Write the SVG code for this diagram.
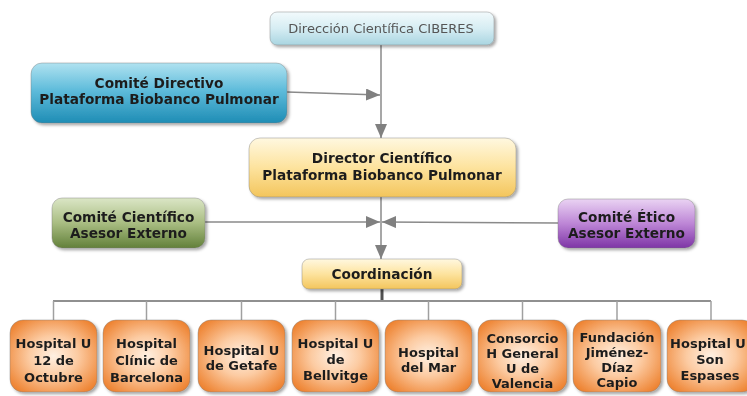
<svg xmlns="http://www.w3.org/2000/svg" width="747" height="396" viewBox="0 0 747 396">
<defs>
  <linearGradient id="gTop" x1="0" y1="0" x2="0" y2="1">
    <stop offset="0" stop-color="#f2fafc"/><stop offset="0.5" stop-color="#d6edf3"/><stop offset="1" stop-color="#a9d5e1"/>
  </linearGradient>
  <linearGradient id="gBlue" x1="0" y1="0" x2="0" y2="1">
    <stop offset="0" stop-color="#b0e2f0"/><stop offset="0.45" stop-color="#5fbcdb"/><stop offset="1" stop-color="#1f8db5"/>
  </linearGradient>
  <linearGradient id="gYel" x1="0" y1="0" x2="0" y2="1">
    <stop offset="0" stop-color="#fff8e0"/><stop offset="0.5" stop-color="#fde39e"/><stop offset="1" stop-color="#f3c55c"/>
  </linearGradient>
  <linearGradient id="gGreen" x1="0" y1="0" x2="0" y2="1">
    <stop offset="0" stop-color="#dbe6c6"/><stop offset="0.5" stop-color="#a9bd82"/><stop offset="1" stop-color="#62803a"/>
  </linearGradient>
  <linearGradient id="gPurp" x1="0" y1="0" x2="0" y2="1">
    <stop offset="0" stop-color="#ead3f3"/><stop offset="0.5" stop-color="#bd86d6"/><stop offset="1" stop-color="#7e35a6"/>
  </linearGradient>
  <radialGradient id="gOr" cx="0.5" cy="0.5" r="0.62">
    <stop offset="0" stop-color="#fff0e2"/><stop offset="0.45" stop-color="#fccba2"/><stop offset="1" stop-color="#ee8433"/>
  </radialGradient>
  <filter id="sh" x="-10%" y="-10%" width="130%" height="140%">
    <feDropShadow dx="2" dy="2" stdDeviation="1.8" flood-color="#000" flood-opacity="0.35"/>
  </filter>
  <marker id="arr" viewBox="0 0 14 12" refX="14" refY="6" markerWidth="14" markerHeight="12" markerUnits="userSpaceOnUse" orient="auto">
    <path d="M0,0 L14,6 L0,12 Z" fill="#808080"/>
  </marker>
</defs>
<style>
  .b { font-family: "DejaVu Sans", Verdana, sans-serif; font-weight: bold; font-size: 13px; fill: #1e1e1e; text-anchor: middle; }
  .h { font-size: 13.7px; }
  .t { font-family: "DejaVu Sans", Verdana, sans-serif; font-size: 13px; fill: #555; text-anchor: middle; }
  .c { fill: none; stroke: #8a8a8a; stroke-width: 1.5; }
  .d { fill: none; stroke: #a0a0a0; stroke-width: 1.5; }
  .n { filter: url(#sh); }
  .bx { stroke: #7a7a7a; stroke-width: 0.8; stroke-opacity: 0.5; }
</style>

<g id="connectors">
  <line class="c" x1="381" y1="45" x2="381" y2="138" marker-end="url(#arr)"/>
  <line class="c" x1="287" y1="92" x2="380" y2="95" marker-end="url(#arr)"/>
  <line class="c" x1="381" y1="197" x2="381" y2="259" marker-end="url(#arr)"/>
  <line class="c" x1="205" y1="222" x2="380" y2="222" marker-end="url(#arr)"/>
  <line class="c" x1="558" y1="223" x2="382" y2="222" marker-end="url(#arr)"/>
  <line x1="382" y1="289" x2="382" y2="301" stroke="#505050" stroke-width="3"/>
  <line x1="53" y1="301" x2="711" y2="301" stroke="#909090" stroke-width="2.2"/>
  <line class="d" x1="53.5" y1="301" x2="53.5" y2="320"/>
  <line class="d" x1="146.5" y1="301" x2="146.5" y2="320"/>
  <line class="d" x1="241.5" y1="301" x2="241.5" y2="320"/>
  <line class="d" x1="335.5" y1="301" x2="335.5" y2="320"/>
  <line class="d" x1="428.5" y1="301" x2="428.5" y2="320"/>
  <line class="d" x1="522.5" y1="301" x2="522.5" y2="320"/>
  <line class="d" x1="617" y1="301" x2="617" y2="320"/>
  <line class="d" x1="711" y1="301" x2="711" y2="320"/>
</g>

<g id="direccion" class="n">
  <rect class="bx" x="270" y="12" width="224" height="33" rx="7" fill="url(#gTop)"/>
  <text class="t" x="381" y="33">Dirección Científica CIBERES</text>
</g>
<g id="comite-directivo" class="n">
  <rect class="bx" x="31" y="63" width="256" height="60" rx="11" fill="url(#gBlue)"/>
  <text class="b h" x="159" y="88">Comité Directivo</text>
  <text class="b h" x="159" y="104">Plataforma Biobanco Pulmonar</text>
</g>
<g id="director" class="n">
  <rect class="bx" x="249" y="138" width="267" height="59" rx="11" fill="url(#gYel)"/>
  <text class="b h" x="382" y="163">Director Científico</text>
  <text class="b h" x="382" y="180">Plataforma Biobanco Pulmonar</text>
</g>
<g id="comite-cientifico" class="n">
  <rect class="bx" x="52" y="198" width="153" height="50" rx="10" fill="url(#gGreen)"/>
  <text class="b h" x="128.5" y="222">Comité Científico</text>
  <text class="b h" x="128.5" y="238">Asesor Externo</text>
</g>
<g id="comite-etico" class="n">
  <rect class="bx" x="558" y="199" width="137" height="49" rx="10" fill="url(#gPurp)"/>
  <text class="b h" x="626.5" y="222">Comité Ético</text>
  <text class="b h" x="626.5" y="238">Asesor Externo</text>
</g>
<g id="coordinacion" class="n">
  <rect class="bx" x="302" y="259" width="160" height="30" rx="7" fill="url(#gYel)"/>
  <text class="b h" x="382" y="279">Coordinación</text>
</g>

<g id="h1" class="n">
  <rect class="bx" x="10" y="320" width="87" height="72" rx="13" fill="url(#gOr)"/>
  <text class="b" x="53.5" y="348">Hospital U</text>
  <text class="b" x="53.5" y="365">12 de</text>
  <text class="b" x="53.5" y="382">Octubre</text>
</g>
<g id="h2" class="n">
  <rect class="bx" x="103" y="320" width="87" height="72" rx="13" fill="url(#gOr)"/>
  <text class="b" x="146.5" y="348">Hospital</text>
  <text class="b" x="146.5" y="365">Clínic de</text>
  <text class="b" x="146.5" y="382">Barcelona</text>
</g>
<g id="h3" class="n">
  <rect class="bx" x="198" y="320" width="87" height="72" rx="13" fill="url(#gOr)"/>
  <text class="b" x="241.5" y="355">Hospital U</text>
  <text class="b" x="241.5" y="370">de Getafe</text>
</g>
<g id="h4" class="n">
  <rect class="bx" x="292" y="320" width="87" height="72" rx="13" fill="url(#gOr)"/>
  <text class="b" x="335.5" y="348">Hospital U</text>
  <text class="b" x="335.5" y="364">de</text>
  <text class="b" x="335.5" y="380">Bellvitge</text>
</g>
<g id="h5" class="n">
  <rect class="bx" x="385" y="320" width="87" height="72" rx="13" fill="url(#gOr)"/>
  <text class="b" x="428.5" y="357">Hospital</text>
  <text class="b" x="428.5" y="372">del Mar</text>
</g>
<g id="h6" class="n">
  <rect class="bx" x="478" y="320" width="89" height="72" rx="13" fill="url(#gOr)"/>
  <text class="b" x="522.5" y="343">Consorcio</text>
  <text class="b" x="522.5" y="358">H General</text>
  <text class="b" x="522.5" y="373">U de</text>
  <text class="b" x="522.5" y="388">Valencia</text>
</g>
<g id="h7" class="n">
  <rect class="bx" x="573" y="320" width="88" height="72" rx="13" fill="url(#gOr)"/>
  <text class="b" x="617" y="342">Fundación</text>
  <text class="b" x="617" y="357">Jiménez-</text>
  <text class="b" x="617" y="372">Díaz</text>
  <text class="b" x="617" y="387">Capio</text>
</g>
<g id="h8" class="n">
  <rect class="bx" x="667" y="320" width="88" height="72" rx="13" fill="url(#gOr)"/>
  <text class="b" x="708" y="348">Hospital U</text>
  <text class="b" x="710" y="364">Son</text>
  <text class="b" x="710" y="380">Espases</text>
</g>
</svg>
